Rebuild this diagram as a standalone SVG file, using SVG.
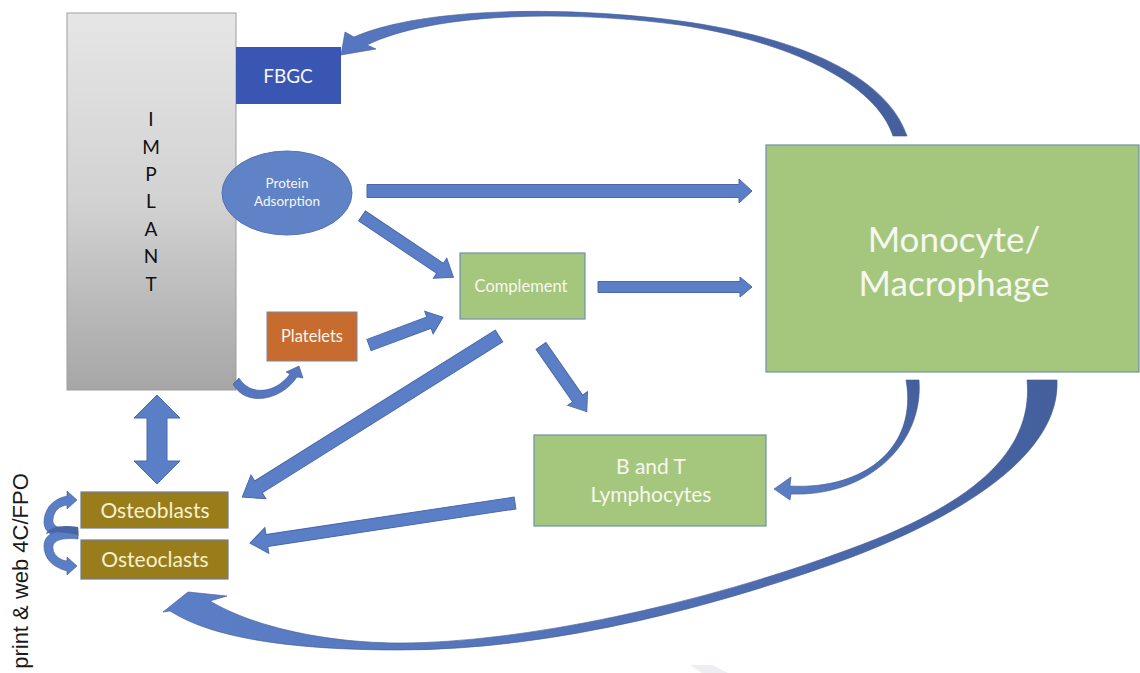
<svg xmlns="http://www.w3.org/2000/svg" width="1140" height="673" viewBox="0 0 1140 673">
<defs>
<linearGradient id="implantGrad" x1="0" y1="0" x2="0" y2="1">
<stop offset="0" stop-color="#e6e6e6"/>
<stop offset="0.5" stop-color="#d2d2d2"/>
<stop offset="1" stop-color="#a6a6a6"/>
</linearGradient>
<linearGradient id="bigArc" gradientUnits="userSpaceOnUse" x1="1050" y1="380" x2="170" y2="620">
<stop offset="0" stop-color="#445f9c"/>
<stop offset="0.5" stop-color="#5170b6"/>
<stop offset="1" stop-color="#5b7fc7"/>
</linearGradient>
<linearGradient id="topArc" gradientUnits="userSpaceOnUse" x1="905" y1="136" x2="340" y2="50">
<stop offset="0" stop-color="#445f9c"/>
<stop offset="1" stop-color="#5677c0"/>
</linearGradient>
<linearGradient id="midArc" gradientUnits="userSpaceOnUse" x1="912" y1="380" x2="775" y2="490">
<stop offset="0" stop-color="#445f9c"/>
<stop offset="1" stop-color="#5b7fc7"/>
</linearGradient>
</defs>
<style>
.arrow{fill:#5b7fc7;stroke:#4a68aa;stroke-width:1}
.curve{stroke:#41598f;stroke-width:0.6}
.txt{font-family:Lato,"Open Sans","Liberation Sans",sans-serif;text-anchor:middle}
.green{fill:#a5c77d;stroke:#6f8fae;stroke-width:1.2}
.osteo{fill:#9a7d1b;stroke:#6e7c92;stroke-width:1.2}
.wtxt{fill:#f6f7f0}
.otxt{fill:#f6f1cf}
</style>
<rect width="1140" height="673" fill="#ffffff"/>

<g id="implant">
<rect x="67" y="13" width="169" height="377" fill="url(#implantGrad)" stroke="#9e9e9e" stroke-width="1"/>
<g class="txt" font-family="'Open Sans',Lato,sans-serif" font-size="19" fill="#111">
<text x="151" y="126">I</text>
<text x="151" y="154">M</text>
<text x="151" y="181">P</text>
<text x="151" y="208">L</text>
<text x="151" y="236">A</text>
<text x="151" y="263">N</text>
<text x="151" y="291">T</text>
</g>
</g>

<g id="fbgc">
<rect x="236" y="47" width="105" height="57" fill="#3a56b3"/>
<text class="txt wtxt" x="288" y="83" font-size="19">FBGC</text>
</g>

<g id="protein">
<ellipse cx="287" cy="193" rx="65" ry="42" fill="#6083c7" stroke="#5273b4" stroke-width="1"/>
<text class="txt wtxt" x="287" y="188" font-size="13.5">Protein</text>
<text class="txt wtxt" x="287" y="206" font-size="13.5">Adsorption</text>
</g>

<g id="complement">
<rect class="green" x="460" y="253" width="125" height="66"/>
<text class="txt wtxt" x="521" y="292" font-size="16.5">Complement</text>
</g>

<g id="platelets">
<rect x="267" y="312" width="90" height="49" fill="#c76c2e" stroke="#7e8596" stroke-width="1"/>
<text class="txt wtxt" x="312" y="342" font-size="16.5">Platelets</text>
</g>

<g id="monocyte">
<rect class="green" x="766" y="145" width="373" height="227"/>
<text class="txt wtxt" x="954" y="252" font-size="35">Monocyte/</text>
<text class="txt wtxt" x="954" y="296" font-size="35">Macrophage</text>
</g>

<g id="lymphocytes">
<rect class="green" x="534" y="435" width="232" height="91"/>
<text class="txt wtxt" x="651" y="474" font-size="21">B and T</text>
<text class="txt wtxt" x="651" y="502" font-size="21">Lymphocytes</text>
</g>

<g id="osteoblasts">
<rect class="osteo" x="81" y="492" width="147" height="36"/>
<text class="txt otxt" x="155" y="518" font-size="21">Osteoblasts</text>
</g>

<g id="osteoclasts">
<rect class="osteo" x="81" y="540" width="147" height="39"/>
<text class="txt otxt" x="155" y="567" font-size="21">Osteoclasts</text>
</g>

<g id="connectors">
<!-- straight block arrows -->
<polygon class="arrow" points="367,184.5 739,184.5 739,179 752,191 739,203 739,197.5 367,197.5"/>
<polygon class="arrow" points="598,281.5 740,281.5 740,277 752,287 740,297 740,292.5 598,292.5"/>
<polygon class="arrow" transform="translate(362,216) rotate(33.8)" points="0,-6 94,-6 94,-12 110,0 94,12 94,6 0,6"/>
<polygon class="arrow" transform="translate(369,345) rotate(-20.5)" points="0,-6 64,-6 64,-12 79,0 64,12 64,6 0,6"/>
<polygon class="arrow" transform="translate(499,336) rotate(147.9)" points="0,-7 284,-7 284,-14 303,0 284,14 284,7 0,7"/>
<polygon class="arrow" transform="translate(541,346) rotate(55.1)" points="0,-6 64,-6 64,-12 80,0 64,12 64,6 0,6"/>
<polygon class="arrow" transform="translate(515,503) rotate(171.4)" points="0,-6 251,-6 251,-13 268,0 251,13 251,6 0,6"/>
<!-- double arrow implant <-> osteoblasts -->
<polygon class="arrow" points="157,395 180,418 167,418 167,461 180,461 157,484 134,461 147,461 147,418 134,418"/>

<!-- Monocyte -> FBGC curved arrow -->
<path class="curve" fill="url(#topArc)" d="M341,55 L345,32 L354,37 C420,8 560,5 680,21 C790,36 885,72 907,136 L893,136 C876,84 792,42 680,25 C560,9 430,14 367,45 L376,49 Z"/>

<!-- Monocyte -> B and T curved arrow -->
<path class="curve" fill="url(#midArc)" d="M774,489 L791,477 L790,486 C864,490 918,448 906,380 L919,380 C924,445 866,497 791,494 L790,500 Z"/>

<!-- Monocyte -> Osteoclasts large curved arrow -->
<path class="curve" fill="url(#bigArc)" d="M163,612 L188,592 L227,596 L210,601 C255,628 330,643 400,643 C520,643 700,605 850,549 C985,500 1033,445 1027,380 L1057,380 C1060,445 985,506 852,557 C730,602 560,650 400,650 C300,650 215,640 170,611 Z"/>

<!-- Implant -> Platelets small curved arrow -->
<path class="curve" fill="#5677c0" d="M299,366 L303,378 L297,377 C282,400 246,408 233,384 L239,378 C250,396 275,394 290,374 L286,372 Z"/>

<!-- Osteo loop arrows -->
<path class="curve" fill="#5b7fc7" d="M77,500 L67,491 L67,496 C52,499 44,510 44,522 C44,534 56,540 78,536 L78,528 C58,530 52,526 53,519 C54,510 60,506 67,505 L67,509 Z"/>
<path class="curve" fill="#5b7fc7" d="M77,566 L67,557 L67,561 C60,560 54,556 53,549 C52,542 58,537 78,539 L78,531 C56,528 44,534 44,546 C44,558 52,567 67,571 L67,575 Z"/>
<path fill="#4a65a3" d="M78,527 C60,524 48,528 46,534 C50,532 60,531 78,535 Z"/>
</g>

<text font-family="'Liberation Sans',Arial,sans-serif" font-size="22" fill="#1a1a1a" text-anchor="middle" transform="translate(28,571) rotate(-90)">print &amp; web 4C/FPO</text>

<polygon points="690,665 712,665 728,673 702,673" fill="#eceef2"/>
</svg>
